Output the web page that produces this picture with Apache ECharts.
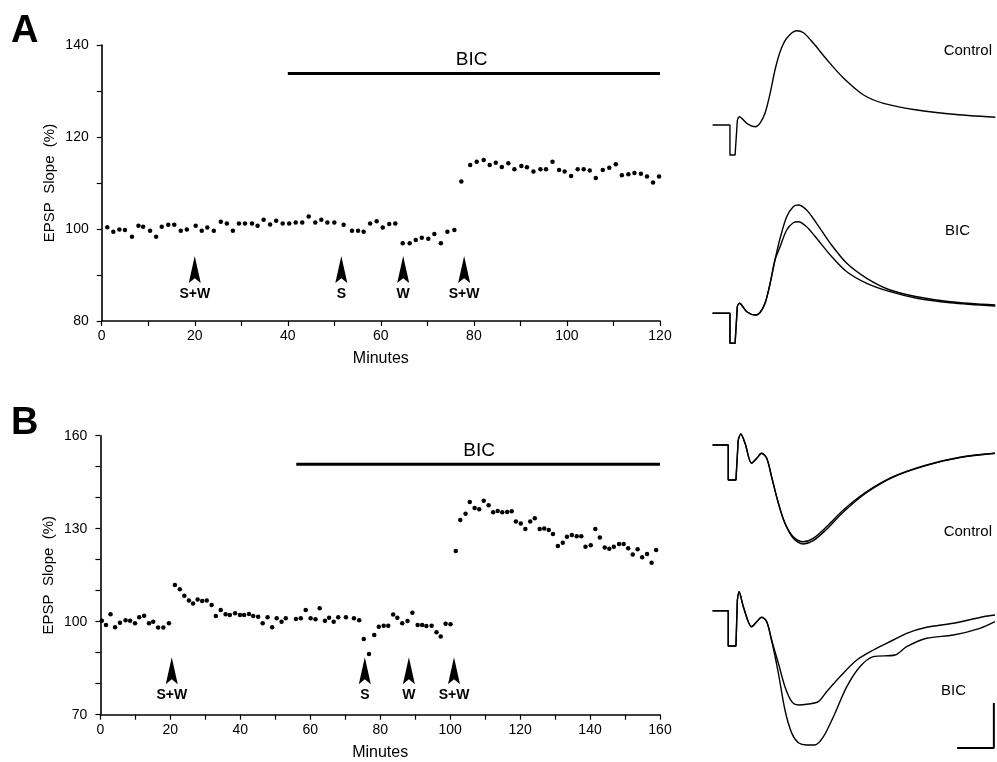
<!DOCTYPE html>
<html>
<head>
<meta charset="utf-8">
<script src="https://cdn.jsdelivr.net/npm/echarts@6/dist/echarts.min.js"></script>
<style>
  html, body { margin: 0; padding: 0; background: #fff; }
  #chart { width: 997px; height: 762px; }
</style>
</head>
<body>
<div id="chart"></div>
<script>
// panel A: EPSP slope (%) vs minutes
var aMinutes = [1.2, 2.5, 3.8, 5.0, 6.5, 7.9, 8.9, 10.4, 11.7, 12.9, 14.3, 15.6, 17.0, 18.3, 20.2, 21.5, 22.7, 24.1, 25.6, 26.9,
    28.2, 29.5, 30.8, 32.3, 33.5, 34.8, 36.2, 37.5, 38.9, 40.3, 41.7, 43.1, 44.5, 45.9, 47.2, 48.5, 50.0, 52.0, 53.8, 55.1,
    56.3, 57.7, 59.1, 60.4, 61.8, 63.1, 64.7, 66.2, 67.5, 68.8, 70.2, 71.5, 72.9, 74.3, 75.8, 77.3, 79.2, 80.6, 82.1, 83.4,
    84.7, 86.0, 87.4, 88.7, 90.2, 91.4, 92.8, 94.3, 95.5, 96.9, 98.3, 99.5, 100.9, 102.3, 103.6, 104.9, 106.2, 107.7, 109.1, 110.5,
    111.8, 113.2, 114.5, 115.9, 117.2, 118.5, 119.8];
var aSlope = [100.4, 99.4, 99.9, 99.8, 98.3, 100.7, 100.5, 99.6, 98.3, 100.5, 100.9, 100.9, 99.6, 99.9, 100.7, 99.6, 100.3, 99.6, 101.6, 101.2,
    99.6, 101.2, 101.2, 101.2, 100.7, 102.0, 101.0, 101.8, 101.2, 101.2, 101.4, 101.4, 102.7, 101.4, 102.0, 101.4, 101.4, 100.9, 99.6, 99.6,
    99.4, 101.2, 101.7, 100.3, 101.1, 101.2, 96.9, 96.9, 97.6, 98.1, 97.9, 98.9, 96.9, 99.4, 99.8, 110.3, 113.9, 114.6, 115.0, 113.9,
    114.4, 113.5, 114.3, 113.0, 113.7, 113.4, 112.5, 113.0, 113.0, 114.6, 112.8, 112.5, 111.5, 113.0, 113.0, 112.7, 111.1, 112.8, 113.3, 114.1,
    111.7, 111.9, 112.2, 112.0, 111.4, 110.1, 111.4];
var aArrowMinutes = [20, 51.5, 64.8, 77.9];
var aArrowLabels = ['S+W', 'S', 'W', 'S+W'];
var aBic = [40, 120];

// panel B
var bMinutes = [0.4, 1.6, 2.9, 4.2, 5.6, 7.2, 8.5, 9.9, 11.1, 12.5, 13.9, 15.1, 16.5, 18.0, 19.6, 21.3, 22.7, 24.0, 25.3, 26.5,
    27.8, 29.1, 30.4, 31.8, 33.0, 34.4, 35.8, 37.0, 38.5, 39.9, 41.1, 42.5, 43.7, 45.1, 46.4, 47.8, 49.1, 50.4, 51.8, 53.0,
    55.9, 57.3, 58.7, 60.1, 61.5, 62.7, 64.2, 65.4, 66.7, 68.0, 70.2, 72.5, 74.0, 75.3, 76.8, 78.3, 79.6, 81.0, 82.3, 83.7,
    84.9, 86.3, 87.8, 89.2, 90.7, 92.0, 93.2, 94.7, 96.1, 97.3, 98.7, 100.1, 101.6, 102.9, 104.4, 105.6, 107.0, 108.3, 109.6, 111.0,
    112.3, 113.6, 114.9, 116.3, 117.6, 118.8, 120.2, 121.5, 122.9, 124.2, 125.6, 126.9, 128.2, 129.4, 130.8, 132.2, 133.4, 134.8, 136.2, 137.5,
    138.7, 140.2, 141.5, 142.8, 144.2, 145.5, 146.8, 148.3, 149.6, 150.9, 152.2, 153.6, 154.9, 156.3, 157.6, 158.9];
var bSlope = [100.3, 98.9, 102.4, 98.2, 99.7, 100.5, 100.3, 99.5, 101.4, 101.9, 99.5, 100.0, 98.1, 98.1, 99.5, 111.8, 110.5, 108.4, 106.8, 105.9,
    107.2, 106.7, 106.8, 105.4, 101.8, 103.8, 102.4, 102.2, 102.7, 102.2, 102.2, 102.5, 101.8, 101.6, 99.5, 101.4, 98.2, 101.1, 100.0, 101.1,
    100.9, 101.1, 103.8, 101.1, 100.8, 104.3, 100.3, 101.3, 100.0, 101.4, 101.4, 101.1, 100.5, 94.4, 89.6, 95.7, 98.4, 98.7, 98.7, 102.3,
    101.3, 99.5, 100.2, 102.9, 98.9, 98.9, 98.6, 98.7, 96.6, 95.2, 99.3, 99.2, 122.8, 132.8, 134.8, 138.6, 136.7, 136.3, 139.0, 137.6,
    135.3, 135.7, 135.3, 135.4, 135.6, 132.3, 131.7, 129.9, 132.3, 133.4, 129.9, 130.1, 129.6, 128.3, 124.4, 125.5, 127.4, 128.0, 127.6, 127.6,
    124.2, 124.7, 129.9, 127.2, 123.9, 123.5, 124.2, 125.1, 125.1, 123.7, 121.7, 123.4, 120.8, 121.8, 119.0, 123.1];
var bArrowMinutes = [20.4, 75.6, 88.2, 101.1];
var bArrowLabels = ['S+W', 'S', 'W', 'S+W'];
var bBic = [56, 160];

// sample traces: [time, amplitude], arbitrary units
var aControlTrace = [[0.2, 0], [6.3, 0], [6.3, -30], [8.1, -30], [8.9, 5], [9.6, 8.3], [12.2, 1.7], [15.2, -1.7], [16.8, 1.7],
    [18.6, 11.7], [20.4, 31.7], [22.1, 55], [23.9, 73.3], [26.2, 86.7], [29.7, 94.3], [32.1, 92.3], [35.6, 81.7], [40.4, 65],
    [46.2, 46.7], [53.2, 30], [60.2, 21.7], [71.9, 15], [83.6, 11], [99.4, 7.7]];
var aBicStart = [[0.2, 0], [6.3, 0], [6.3, -30], [8.1, -30], [8.9, 7.3], [9.6, 10], [12.2, 1.6], [15.2, -1.7], [16.8, 0.6],
    [18.6, 10], [20.4, 30], [22.1, 53.3]];
var aBicLarge = aBicStart.concat([[23.9, 75], [26.2, 96.6], [28.5, 106.6], [30.3, 108.3], [33.2, 103.3], [36.7, 90], [41.5, 70],
    [47.3, 50], [54.3, 35], [62.5, 23.3], [71.9, 16.6], [83.6, 11.6], [99.4, 8.3]]);
var aBicSmall = aBicStart.concat([[23.9, 66.6], [26.2, 83.3], [28.5, 90.6], [30.3, 91.6], [33.2, 86.6], [36.7, 75], [41.5, 58.3],
    [47.3, 41.6], [54.3, 30], [62.5, 21.6], [71.9, 15], [83.6, 10.6], [99.4, 7.3]]);

var bControlStart = [[0.2, 0], [5.7, 0], [5.7, -35], [8.4, -35], [9.2, 5], [10.1, 11], [11.6, 1.7], [13.9, -18.3], [15.7, -13.3],
    [17.4, -8.3], [19.2, -13.3], [20.9, -31.7], [23.3, -58.3], [25.6, -78.3]];
var bControl1 = bControlStart.concat([[28.5, -91.7], [32.0, -96.7], [35.5, -93.3], [40.2, -81.7], [46.1, -65], [54.3, -46.7],
    [63.6, -31.7], [75.3, -20], [87.0, -12.3], [99.3, -8.3]]);
var bControl2 = bControlStart.concat([[28.5, -93.3], [32.0, -99], [35.5, -95.7], [40.2, -84.3], [46.1, -67], [54.3, -47.5],
    [63.6, -32], [75.3, -20.3], [87.0, -12.6], [99.3, -8.3]]);
var bBicStart = [[0.2, 0], [5.7, 0], [5.7, -35.3], [8.4, -35.3], [8.9, 10.7], [9.5, 19], [11.0, 4], [13.9, -16], [15.7, -11],
    [17.4, -6.6], [19.2, -11], [20.9, -29.3]];
var bBicUpper = bBicStart.concat([[23.3, -52.6], [25.6, -76], [28.0, -91], [30.3, -94.3], [33.8, -93.3], [37.3, -91], [40.2, -81],
    [44.9, -66], [50.8, -49.3], [56.6, -39.3], [63.6, -29.3], [68.3, -22.6], [75.3, -16.6], [84.7, -12.6], [95.2, -6], [99.3, -4.3]]);
var bBicLower = bBicStart.concat([[23.3, -62.6], [25.6, -99.3], [28.0, -122.6], [30.3, -132], [33.2, -134.3], [36.1, -134.3],
    [39.1, -126], [42.6, -106], [47.3, -76], [51.9, -56], [56.6, -46], [64.2, -44.3], [68.3, -36], [75.3, -27.6], [84.7, -24.3],
    [94.0, -17.6], [99.3, -11]]);
var bScaleBar = [[86, -137.3], [98.9, -137.3], [98.9, -92.3]];

var FONT = 'Liberation Sans, Arial, sans-serif';

function zip(xs, ys) {
    return xs.map(function (x, i) { return [x, ys[i]]; });
}

function scatterXAxis(grid, max) {
    return {
        gridIndex: grid, type: 'value', min: 0, max: max, interval: 10,
        name: 'Minutes', nameLocation: 'middle', nameGap: 30,
        nameTextStyle: {color: '#000', fontFamily: FONT, fontSize: 16},
        splitLine: {show: false},
        axisLine: {lineStyle: {color: '#000', width: 1.6}},
        axisTick: {length: 5, lineStyle: {color: '#000', width: 1.2}},
        axisLabel: {
            color: '#000', fontFamily: FONT, fontSize: 14, margin: 8,
            formatter: function (v) { return v % 20 === 0 ? v : ''; }
        }
    };
}

function scatterYAxis(grid, min, max, step) {
    return {
        gridIndex: grid, type: 'value', min: min, max: max, interval: 10,
        name: 'EPSP  Slope  (%)', nameLocation: 'middle', nameGap: 44, nameMoveOverlap: false,
        nameTextStyle: {color: '#000', fontFamily: FONT, fontSize: 15},
        splitLine: {show: false},
        axisLine: {show: true, lineStyle: {color: '#000', width: 1.6}},
        axisTick: {show: true, length: 5, lineStyle: {color: '#000', width: 1.2}},
        axisLabel: {
            color: '#000', fontFamily: FONT, fontSize: 14, margin: 13,
            formatter: function (v) { return (v - min) % step === 0 ? v : ''; }
        }
    };
}

function hiddenAxis(grid, min, max) {
    return {gridIndex: grid, type: 'value', min: min, max: max, show: false};
}

function arrowSeries(axis, minutes, labels, y) {
    return {
        type: 'scatter', xAxisIndex: axis, yAxisIndex: axis,
        symbol: 'path://M5,0 L10,28 L5,23 L0,28 Z', symbolSize: [12, 27],
        itemStyle: {color: '#000', opacity: 1},
        label: {
            show: true, position: 'bottom', distance: 4, color: '#000',
            fontFamily: FONT, fontSize: 14, fontWeight: 'bold',
            formatter: function (p) { return labels[p.dataIndex]; }
        },
        data: minutes.map(function (m) { return [m, y]; }),
        z: 3
    };
}

function bicSeries(axis, range, y, labelX, labelY) {
    return [{
        type: 'line', xAxisIndex: axis, yAxisIndex: axis, symbol: 'none',
        lineStyle: {color: '#000', width: 3}, data: [[range[0], y], [range[1], y]]
    }, {
        type: 'scatter', xAxisIndex: axis, yAxisIndex: axis, symbolSize: 0,
        itemStyle: {opacity: 1},
        label: {show: true, position: 'inside', formatter: 'BIC', color: '#000', fontFamily: FONT, fontSize: 19},
        data: [[labelX, labelY]]
    }];
}

// stimulus artifact drawn straight, the response drawn smooth
function traceSeries(axis, data) {
    var base = {
        type: 'line', xAxisIndex: axis, yAxisIndex: axis, symbol: 'none',
        lineStyle: {color: '#000', width: 1.4}
    };
    return [
        Object.assign({}, base, {data: data.slice(0, 5)}),
        Object.assign({}, base, {data: data.slice(4), smooth: 0.3})
    ];
}

var chart = echarts.init(document.getElementById('chart'));

var option = {
    backgroundColor: '#fff',
    animation: false,
    title: [
        {text: 'A', left: 6, top: 8, textStyle: {fontFamily: FONT, fontSize: 38, fontWeight: 'bold', color: '#000'}},
        {text: 'B', left: 6, top: 400, textStyle: {fontFamily: FONT, fontSize: 38, fontWeight: 'bold', color: '#000'}},
        {text: 'Control', right: 0, top: 38, textStyle: {fontFamily: FONT, fontSize: 15, fontWeight: 'normal', color: '#000'}},
        {text: 'BIC', left: 940, top: 218, textStyle: {fontFamily: FONT, fontSize: 15, fontWeight: 'normal', color: '#000'}},
        {text: 'Control', right: 0, top: 519, textStyle: {fontFamily: FONT, fontSize: 15, fontWeight: 'normal', color: '#000'}},
        {text: 'BIC', left: 936, top: 678, textStyle: {fontFamily: FONT, fontSize: 15, fontWeight: 'normal', color: '#000'}}
    ],
    grid: [
        {left: 101.7, top: 45, width: 558.3, height: 276},
        {left: 100.4, top: 435.7, width: 559.6, height: 279},
        {left: 712, top: 20, width: 285, height: 150},
        {left: 712, top: 190, width: 285, height: 165},
        {left: 712, top: 420, width: 285, height: 130},
        {left: 712, top: 580, width: 285, height: 180}
    ],
    xAxis: [
        scatterXAxis(0, 120),
        scatterXAxis(1, 160),
        hiddenAxis(2, 0, 100),
        hiddenAxis(3, 0, 100),
        hiddenAxis(4, 0, 100),
        hiddenAxis(5, 0, 100)
    ],
    yAxis: [
        scatterYAxis(0, 80, 140, 20),
        scatterYAxis(1, 70, 160, 30),
        hiddenAxis(2, -45, 105),
        hiddenAxis(3, -41.7, 123.3),
        hiddenAxis(4, -105, 25),
        hiddenAxis(5, -149.3, 30.7)
    ],
    series: [
        {
            type: 'scatter', xAxisIndex: 0, yAxisIndex: 0, symbolSize: 4.5,
            itemStyle: {color: '#000', opacity: 1}, data: zip(aMinutes, aSlope)
        },
        {
            type: 'scatter', xAxisIndex: 1, yAxisIndex: 1, symbolSize: 4.5,
            itemStyle: {color: '#000', opacity: 1}, data: zip(bMinutes, bSlope)
        },
        arrowSeries(0, aArrowMinutes, aArrowLabels, 91.2),
        arrowSeries(1, bArrowMinutes, bArrowLabels, 84.2)
    ].concat(
        bicSeries(0, aBic, 133.8, 79.5, 136.8),
        bicSeries(1, bBic, 150.8, 108.3, 155.3),
        traceSeries(2, aControlTrace),
        traceSeries(3, aBicLarge),
        traceSeries(3, aBicSmall),
        traceSeries(4, bControl1),
        traceSeries(4, bControl2),
        traceSeries(5, bBicUpper),
        traceSeries(5, bBicLower),
        [{
            type: 'line', xAxisIndex: 5, yAxisIndex: 5, symbol: 'none',
            lineStyle: {color: '#000', width: 2}, data: bScaleBar
        }]
    )
};

chart.setOption(option);
</script>
</body>
</html>
